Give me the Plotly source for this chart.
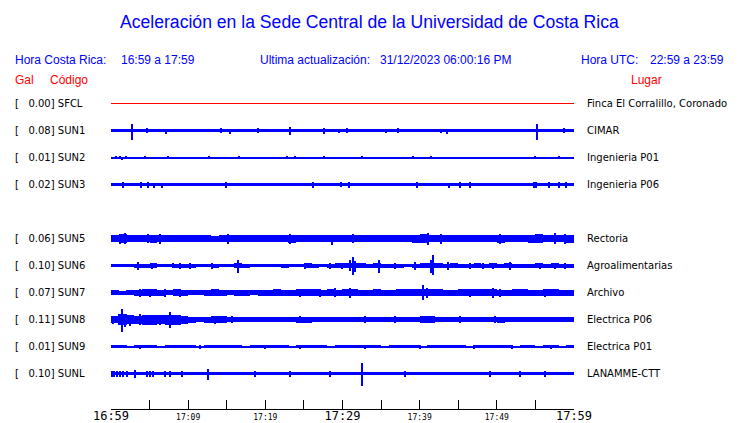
import plotly.graph_objects as go

# ---------------- data ----------------
SLOTS = ["SFCL", "SUN1", "SUN2", "SUN3", "SUN4", "SUN5", "SUN6", "SUN7", "SUN8", "SUN9", "SUNL"]
STATIONS = ["SFCL", "SUN1", "SUN2", "SUN3", "SUN5", "SUN6", "SUN7", "SUN8", "SUN9", "SUNL"]
PEAK_GAL = [0.00, 0.08, 0.01, 0.02, 0.06, 0.10, 0.07, 0.11, 0.01, 0.10]
PLACES = ["Finca El Corralillo, Coronado", "CIMAR", "Ingenieria P01", "Ingenieria P06",
          "Rectoria", "Agroalimentarias", "Archivo", "Electrica P06", "Electrica P01", "LANAMME-CTT"]

# minutes after 16:59 (bin edges) and tick labels
MINUTES = list(range(61))
TICK_MIN = [0, 5, 10, 15, 20, 25, 30, 35, 40, 45, 50, 55, 60]
TICK_TXT = ["16:59", "", "17:09", "", "17:19", "", "17:29", "", "17:39", "", "17:49", "", "17:59"]
TICK_BIG = [True, False, False, False, False, False, True, False, False, False, False, False, True]

# envelope half-amplitude per 1-minute bin (display counts)
SFCL_ENV = [0.0, 0.0, 0.0, 0.0, 0.0, 0.0, 0.0, 0.0, 0.0, 0.0, 0.0, 0.0, 0.0, 0.0, 0.0, 0.0, 0.0, 0.0, 0.0, 0.0,
            0.0, 0.0, 0.0, 0.0, 0.0, 0.0, 0.0, 0.0, 0.0, 0.0, 0.0, 0.0, 0.0, 0.0, 0.0, 0.0, 0.0, 0.0, 0.0, 0.0,
            0.0, 0.0, 0.0, 0.0, 0.0, 0.0, 0.0, 0.0, 0.0, 0.0, 0.0, 0.0, 0.0, 0.0, 0.0, 0.0, 0.0, 0.0, 0.0, 0.0]
SUN1_ENV = [1.8, 1.2, 1.8, 1.8, 1.8, 1.2, 1.8, 1.8, 1.2, 1.8, 1.2, 1.8, 1.8, 1.8, 1.8, 1.8, 1.8, 1.8, 1.8, 1.8,
            1.2, 1.5, 1.8, 1.8, 1.8, 1.8, 1.8, 1.8, 1.8, 1.8, 1.8, 1.8, 1.8, 1.8, 1.2, 1.8, 1.8, 1.8, 1.8, 1.8,
            1.5, 1.5, 1.5, 1.8, 1.8, 1.5, 1.8, 1.8, 1.8, 1.8, 1.5, 1.8, 1.8, 1.8, 1.8, 1.8, 1.8, 1.8, 1.8, 1.8]
SUN2_ENV = [0.6, 0.7, 0.6, 0.6, 0.6, 0.6, 0.6, 0.6, 0.6, 0.6, 0.6, 0.6, 0.6, 0.6, 0.6, 0.6, 0.6, 0.6, 0.6, 0.6,
            0.6, 0.6, 0.6, 0.6, 0.6, 0.6, 0.6, 0.6, 0.6, 0.6, 0.6, 0.6, 0.6, 0.6, 0.6, 0.6, 0.6, 0.6, 0.6, 0.6,
            0.6, 0.6, 0.6, 0.6, 0.6, 0.6, 0.6, 0.6, 0.6, 0.6, 0.6, 0.6, 0.6, 0.6, 0.6, 0.6, 0.6, 0.6, 0.6, 0.6]
SUN3_ENV = [1.8, 1.8, 1.7, 1.8, 1.8, 1.8, 1.8, 1.7, 1.8, 1.8, 1.8, 1.8, 1.8, 1.7, 1.8, 1.8, 1.8, 1.8, 1.8, 1.8,
            1.8, 1.8, 1.7, 1.8, 1.8, 1.8, 1.8, 1.8, 1.8, 1.8, 1.8, 1.8, 1.8, 1.7, 1.8, 1.8, 1.8, 1.8, 1.8, 1.8,
            1.8, 1.8, 1.8, 1.8, 1.8, 1.7, 1.8, 1.8, 1.8, 1.8, 1.8, 1.8, 1.8, 1.8, 1.8, 1.8, 1.8, 1.8, 1.8, 1.8]
SUN5_ENV = [3.8, 4.2, 3.5, 3.2, 3.6, 4.0, 3.5, 3.2, 3.4, 3.6, 3.3, 3.5, 3.2, 3.0, 3.6, 3.8, 3.4, 3.2, 3.5, 3.4,
            3.2, 3.6, 3.8, 4.0, 3.8, 3.5, 3.2, 3.4, 3.6, 3.8, 3.5, 3.3, 3.6, 3.8, 3.5, 3.2, 3.3, 3.6, 3.8, 4.0,
            4.2, 3.6, 3.4, 3.5, 3.8, 3.6, 3.4, 3.5, 3.7, 3.8, 4.0, 3.6, 3.4, 3.8, 4.0, 4.2, 3.8, 3.6, 3.8, 4.0]
SUN6_ENV = [1.8, 1.8, 1.9, 2.0, 2.0, 2.2, 1.8, 1.8, 2.0, 2.0, 2.0, 1.8, 1.8, 2.0, 1.8, 1.8, 2.4, 2.0, 1.8, 1.8,
            1.8, 1.8, 2.0, 1.8, 1.8, 2.2, 2.0, 1.8, 2.0, 2.2, 2.4, 2.8, 2.2, 2.0, 2.2, 2.0, 2.0, 2.0, 1.8, 2.0,
            2.2, 2.8, 2.2, 2.0, 2.2, 2.0, 2.0, 2.2, 2.0, 2.2, 2.0, 2.2, 2.0, 2.0, 2.0, 2.2, 2.0, 2.2, 2.0, 2.0]
SUN7_ENV = [2.8, 2.0, 2.8, 3.0, 3.2, 3.4, 3.0, 2.8, 3.2, 3.0, 2.8, 2.8, 3.0, 3.2, 3.0, 2.8, 3.0, 3.0, 2.8, 3.0,
            3.0, 3.2, 3.0, 3.0, 3.3, 3.4, 3.2, 3.0, 3.2, 3.0, 3.2, 3.2, 3.0, 3.0, 3.2, 3.0, 3.0, 3.2, 3.4, 3.6,
            3.8, 3.4, 3.2, 3.0, 3.0, 3.2, 3.2, 3.4, 3.4, 3.2, 3.0, 3.0, 3.2, 3.2, 3.0, 3.0, 3.2, 3.2, 3.0, 3.0]
SUN8_ENV = [3.5, 5.5, 4.5, 4.0, 5.0, 5.0, 4.5, 5.0, 5.0, 4.0, 3.0, 2.8, 3.0, 3.3, 3.3, 2.8, 2.7, 2.7, 2.8, 2.7,
            2.7, 2.8, 2.7, 2.7, 3.0, 3.0, 2.8, 2.7, 2.8, 2.7, 2.8, 2.7, 2.8, 2.8, 2.7, 2.8, 2.8, 2.7, 2.8, 2.8,
            3.2, 3.3, 2.8, 2.8, 2.7, 2.8, 2.8, 2.7, 2.8, 2.8, 3.0, 2.8, 2.7, 2.8, 2.8, 2.8, 2.7, 2.8, 2.8, 2.8]
SUN9_ENV = [1.2, 1.2, 1.0, 1.2, 1.2, 1.2, 1.0, 1.2, 1.2, 1.2, 1.2, 1.0, 1.2, 1.2, 1.2, 1.2, 1.2, 1.0, 1.2, 1.2,
            1.2, 1.2, 1.2, 1.0, 1.2, 1.2, 1.2, 1.2, 1.0, 1.2, 1.2, 1.2, 1.2, 1.2, 1.2, 1.0, 1.2, 1.2, 1.2, 1.2,
            1.0, 1.2, 1.2, 1.2, 1.2, 1.2, 1.0, 1.2, 1.2, 1.2, 1.2, 1.2, 1.0, 1.2, 1.2, 1.0, 1.2, 1.2, 1.0, 1.2]
SUNL_ENV = [1.8, 1.8, 1.7, 1.8, 1.7, 1.7, 1.8, 1.7, 1.7, 1.7, 1.7, 1.7, 1.8, 1.7, 1.7, 1.7, 1.7, 1.7, 1.8, 1.7,
            1.7, 1.7, 1.7, 1.7, 1.8, 1.7, 1.7, 1.7, 1.7, 1.7, 1.7, 1.7, 1.8, 1.7, 1.7, 1.7, 1.7, 1.7, 1.8, 1.7,
            1.7, 1.7, 1.7, 1.7, 1.7, 1.7, 1.7, 1.7, 1.7, 1.8, 1.7, 1.7, 1.7, 1.7, 1.7, 1.7, 1.7, 1.7, 1.7, 1.7]

# short bursts: (minute, up, down) in display counts
SFCL_SPIKES = []
SUN1_SPIKES = [(2.78, 7, 9), (4.73, 2.5, 2.5), (7.19, 2, 3), (14.31, 3, 2), (15.48, 2, 3), (19.11, 2.5, 2.5),
               (23.25, 4, 4), (27.65, 3, 3), (29.60, 2, 2), (30.63, 3, 2), (35.69, 2, 2), (37.24, 3, 2),
               (42.81, 2, 2), (43.59, 2, 3), (55.25, 7, 9), (58.74, 2.5, 2)]
SUN2_SPIKES = [(0.71, 1.5, 1.5), (1.23, 1.5, 1.5), (1.49, 0.5, 2), (2.01, 1.5, 1.5), (4.47, 1.5, 1.5),
               (7.45, 1.5, 1), (9.26, 1, 1.5), (12.76, 1.5, 1), (15.22, 1, 1.5), (16.64, 1.5, 1), (17.29, 1, 1.5),
               (22.86, 1.5, 1), (23.25, 1, 1.5), (23.90, 1.5, 1), (27.65, 1.5, 1), (30.38, 1, 1.5),
               (31.15, 1, 1.5), (31.67, 1, 1.5), (32.58, 1.5, 1.5), (39.18, 1.5, 1), (41.52, 1.5, 1),
               (53.82, 1, 1.5), (54.73, 1, 1.5), (54.99, 1.5, 1), (56.93, 1, 1.5), (58.10, 1.5, 1)]
SUN3_SPIKES = [(1.62, 3, 3), (3.95, 3, 3), (4.86, 3, 3), (5.63, 2, 3), (6.67, 2, 3), (11.59, 2, 0.5),
               (14.96, 3, 3), (26.23, 3, 3), (29.86, 3, 2.5), (30.89, 3, 3), (39.70, 3, 3), (43.85, 1, 3),
               (45.27, 3, 3), (46.57, 3, 3), (54.86, 3, 3), (55.12, 3, 3), (56.80, 3, 3), (58.10, 3, 3),
               (59.00, 3, 3)]
SUN5_SPIKES = [(1.23, 5, 5), (1.88, 5.5, 5), (4.86, 5, 4.5), (6.41, 4.5, 5), (15.22, 5, 5), (23.25, 5, 5.5),
               (28.69, 4, 6), (31.41, 5, 4.5), (41.13, 6, 6), (42.81, 5, 5), (50.45, 5, 5), (57.58, 5.5, 5),
               (58.87, 5, 5)]
SUN6_SPIKES = [(3.56, 4, 4), (5.38, 3, 3), (8.10, 3, 2.5), (9.00, 2.5, 3), (10.30, 3, 3), (13.15, 3, 3),
               (16.52, 6, 7), (25.19, 3, 3), (28.43, 3, 3), (29.99, 3, 3), (31.02, 6, 5), (31.41, 9, 9.5),
               (31.67, 5, 6), (34.78, 6, 7.5), (36.85, 3, 3), (39.44, 4, 4), (41.52, 6, 7), (41.77, 11, 9.5),
               (43.72, 4, 4), (46.57, 3, 3), (48.25, 3, 3), (49.55, 3, 3), (51.75, 4, 4), (55.63, 3, 3),
               (57.58, 3, 3), (58.87, 3, 3)]
SUN7_SPIKES = [(3.82, 4, 4), (5.12, 4, 4), (7.06, 4, 4.5), (9.00, 4, 4), (24.55, 4, 4.5), (27.14, 4, 4),
               (29.08, 5, 4.5), (31.02, 4.5, 5), (40.48, 7.3, 7), (41.00, 5, 5), (46.57, 4, 4), (49.55, 4.5, 5),
               (50.45, 4, 4), (56.28, 4, 4)]
SUN8_SPIKES = [(0.32, 4, 4), (1.10, 6, 5), (1.45, 11, 12.4), (1.88, 6, 7), (2.53, 5, 6), (3.82, 6, 5),
               (4.86, 5, 5), (5.76, 4, 5), (6.41, 5, 5), (7.71, 8, 8), (8.74, 5, 4), (13.54, 4, 4),
               (15.74, 3.5, 3.5), (24.55, 3.5, 3.5), (32.97, 3.5, 3.5), (36.85, 3.5, 3.5), (40.74, 4, 3.5),
               (45.27, 3.5, 3.5), (49.81, 3.5, 3.5)]
SUN9_SPIKES = [(3.82, 2, 2), (11.59, 2, 2), (20.00, 2, 2), (24.55, 2, 2), (32.97, 2, 2), (40.00, 2, 2),
               (47.00, 2, 2), (52.00, 2, 2), (57.00, 2, 2)]
SUNL_SPIKES = [(0.19, 3, 3), (0.45, 3, 3), (0.84, 3, 3), (1.23, 3, 3), (1.62, 3, 3), (2.14, 3, 3),
               (3.17, 4, 4), (4.73, 3, 3), (5.12, 3, 3), (5.50, 3, 3), (7.06, 3, 3), (7.71, 3, 3),
               (9.26, 3, 3), (12.63, 5, 6), (18.72, 3, 3), (23.25, 3, 3), (28.43, 3, 3), (32.58, 11, 12),
               (38.15, 3, 3), (49.16, 3, 3), (53.04, 3, 3), (56.28, 3, 3)]

ENVS = [SFCL_ENV, SUN1_ENV, SUN2_ENV, SUN3_ENV, SUN5_ENV, SUN6_ENV, SUN7_ENV, SUN8_ENV, SUN9_ENV, SUNL_ENV]
SPIKES = [SFCL_SPIKES, SUN1_SPIKES, SUN2_SPIKES, SUN3_SPIKES, SUN5_SPIKES, SUN6_SPIKES, SUN7_SPIKES,
          SUN8_SPIKES, SUN9_SPIKES, SUNL_SPIKES]
TRACE_COLORS = ["#ff0000"] + ["#0000ff"] * 9

# ---------------- layout constants ----------------
W, H = 740, 423
PAGE_OFF = 8          # default page body margin in the browser
PLOT_LEFT, PLOT_RIGHT, PLOT_TOP, PLOT_BOTTOM = 111, 574, 88, 409   # wanted on-screen pixels
ML = PLOT_LEFT - PAGE_OFF
MR = W - (PLOT_RIGHT - PAGE_OFF)
MT = PLOT_TOP - PAGE_OFF
MB = H - (PLOT_BOTTOM - PAGE_OFF)
ROW_SPACING = 27
FIRST_ROW_PAD = 15.5  # display counts from top of plot area to first row
PW = W - ML - MR
PH = H - MT - MB


def px_x(xpix):
    return (xpix - PAGE_OFF - ML) / PW


def px_y(ypix):
    return (H - MB - (ypix - PAGE_OFF)) / PH


fig = go.Figure()

for code, env, spikes, color in zip(STATIONS, ENVS, SPIKES, TRACE_COLORS):
    off = -ROW_SPACING * SLOTS.index(code)
    if max(env) == 0:
        fig.add_trace(go.Scatter(x=MINUTES, y=[off] * len(MINUTES), mode="lines",
                                 line=dict(color=color, width=1), hoverinfo="skip"))
    else:
        centers = [m + 0.5 for m in MINUTES[:-1]]
        fig.add_trace(go.Bar(x=centers, y=[2 * a for a in env], base=[off - a for a in env],
                             width=1.02, marker=dict(color=color, line=dict(width=0)),
                             hoverinfo="skip"))
    if spikes:
        fig.add_trace(go.Bar(x=[s[0] for s in spikes], y=[s[1] + s[2] for s in spikes],
                             base=[off - s[2] for s in spikes], width=0.16,
                             marker=dict(color=color, line=dict(width=0)), hoverinfo="skip"))

ticktext = []
for t, big in zip(TICK_TXT, TICK_BIG):
    if big:
        ticktext.append(t)
    else:
        ticktext.append('<span style="font-size:8px">%s</span>' % t if t else "")

fig.update_layout(
    width=W, height=H, margin=dict(l=ML, r=MR, t=MT, b=MB, autoexpand=False),
    paper_bgcolor="white", plot_bgcolor="white", showlegend=False, barmode="overlay",
    bargap=0,
    xaxis=dict(range=[0, 60], tickvals=TICK_MIN, ticktext=ticktext, ticks="inside", ticklen=9,
               tickcolor="black", tickwidth=1, showline=True, linecolor="black", linewidth=1,
               showgrid=False, zeroline=False, tickangle=0, automargin=False, ticklabelstandoff=-4,
               tickfont=dict(family="DejaVu Sans Mono", size=12, color="black")),
    yaxis=dict(range=[-(PH - FIRST_ROW_PAD), FIRST_ROW_PAD], visible=False, showgrid=False,
               zeroline=False, automargin=False),
)

ann = []
blue, red = "#0000ff", "#ff0000"
hf = "Liberation Sans"
ann.append(dict(x=px_x(369), y=px_y(22), text="Aceleración en la Sede Central de la Universidad de Costa Rica",
                font=dict(family=hf, size=17.6, color=blue), xanchor="center", yanchor="middle"))
for xp, txt in [(15, "Hora Costa Rica:"), (121, "16:59 a 17:59"), (260, "Ultima actualización:"),
                (380, "31/12/2023 06:00:16 PM"), (581, "Hora UTC:"), (650, "22:59 a 23:59")]:
    ann.append(dict(x=px_x(xp - 1), y=px_y(60), text=txt, font=dict(family=hf, size=12, color=blue),
                    xanchor="left", yanchor="middle"))
for xp, txt in [(15, "Gal"), (50, "Código"), (631, "Lugar")]:
    ann.append(dict(x=px_x(xp - 1), y=px_y(80), text=txt, font=dict(family=hf, size=12, color=red),
                    xanchor="left", yanchor="middle"))

for code, gal, place in zip(STATIONS, PEAK_GAL, PLACES):
    off = -ROW_SPACING * SLOTS.index(code)
    ann.append(dict(x=px_x(14), y=off, yref="y", text="[\u00a0\u00a0\u00a0%.2f] %s" % (gal, code),
                    font=dict(family="DejaVu Sans", size=10, color="black"), xanchor="left",
                    yanchor="middle"))
    ann.append(dict(x=px_x(586), y=off, yref="y", text=place,
                    font=dict(family="DejaVu Sans", size=10, color="black"), xanchor="left",
                    yanchor="middle"))

for a in ann:
    a.setdefault("yref", "paper")
    a["xref"] = "paper"
    a["showarrow"] = False
    a["borderpad"] = 0
fig.update_layout(annotations=ann)

fig.write_html("out.html")
